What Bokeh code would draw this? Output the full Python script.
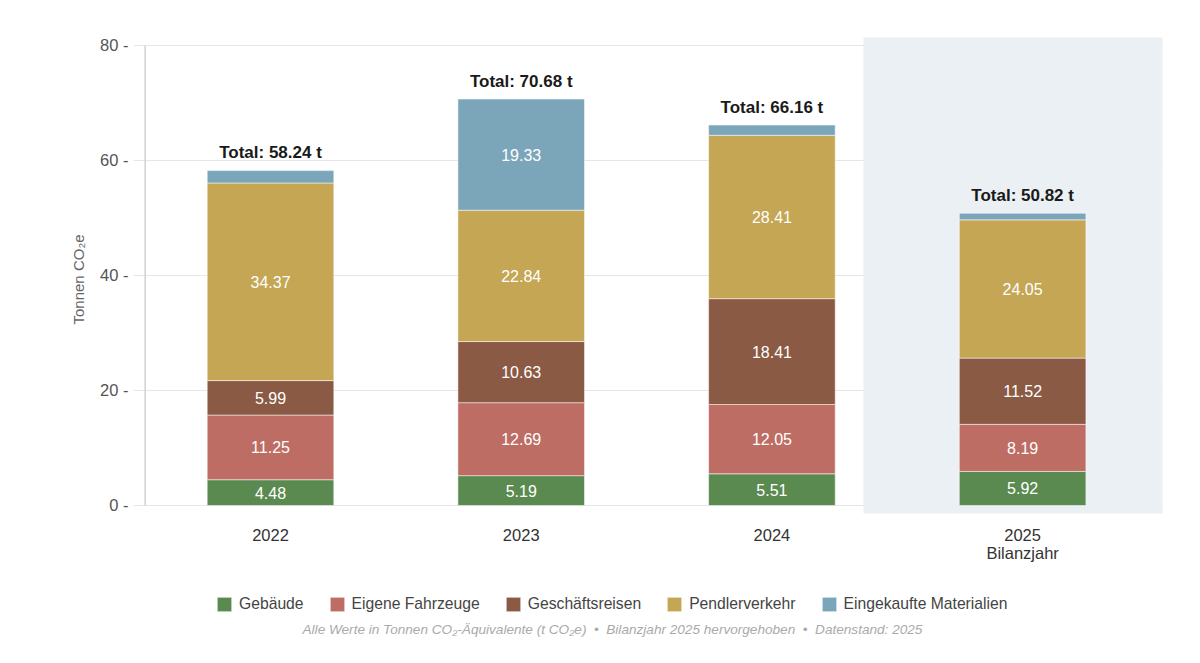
import numpy as np
from bokeh.plotting import figure
from bokeh.models import (ColumnDataSource, Range1d, FixedTicker, Legend, LegendItem,
                          Label, Title)
from bokeh.core.properties import value
from bokeh.embed import file_html
from bokeh.resources import INLINE

# --- data -------------------------------------------------------------------
years = ["2022", "2023", "2024", "2025"]
year_notes = ["", "", "", "Bilanzjahr"]
gebaeude = [4.48, 5.19, 5.51, 5.92]
eigene_fahrzeuge = [11.25, 12.69, 12.05, 8.19]
geschaeftsreisen = [5.99, 10.63, 18.41, 11.52]
pendlerverkehr = [34.37, 22.84, 28.41, 24.05]
materialien = [2.15, 19.33, 1.78, 1.14]

series_names = ["Gebäude", "Eigene Fahrzeuge", "Geschäftsreisen",
                "Pendlerverkehr", "Eingekaufte Materialien"]
series_values = [gebaeude, eigene_fahrzeuge, geschaeftsreisen,
                 pendlerverkehr, materialien]
colors = ["#5B8A50", "#BE6D64", "#8B5A44", "#C4A654", "#7BA6BA"]

y_ticks = [0, 20, 40, 60, 80]
highlight_year = "2025"

FONT = "Liberation Sans"
SEP = "\u00a0\u00a0•\u00a0\u00a0"

# --- figure -----------------------------------------------------------------
# The frame reaches down to the bottom of the canvas so that the category
# labels, the legend and the footnote can live inside it.
xs = np.arange(len(years), dtype=float)
keys = [f"s{i}" for i in range(len(series_names))]
src = ColumnDataSource(dict(x=xs, **{k: v for k, v in zip(keys, series_values)}))

p = figure(width=1200, height=663, output_backend="svg", toolbar_location=None,
           x_range=Range1d(-0.5465, 3.558), y_range=Range1d(-27.48, 81.39),
           min_border_left=133, min_border_right=38, min_border_top=37,
           min_border_bottom=0)
p.outline_line_color = None
p.background_fill_color = "white"
p.border_fill_color = "white"
p.xaxis.visible = False

# grid
p.xgrid.visible = False
p.ygrid.ticker = FixedTicker(ticks=y_ticks)
p.ygrid.grid_line_color = "#E6E6E6"
p.ygrid.grid_line_width = 1

# highlighted reporting year
hi = years.index(highlight_year)
p.quad(left=[xs[hi] - 0.635], right=[xs[hi] + 0.635], bottom=[-1.39], top=[90],
       fill_color="#EBF0F5", line_color=None)

# left axis line from 0 to 80
p.segment(x0=[-0.5], x1=[-0.5], y0=[y_ticks[0]], y1=[y_ticks[-1]],
          line_color="#D2D2D2", line_width=1.5)

# stacked bars
renderers = p.vbar_stack(keys, x="x", width=0.505, source=src, color=colors,
                         line_color="white", line_alpha=0.5, line_width=1)

# value labels inside segments
vals = np.array(series_values)
cum = np.cumsum(vals, axis=0)
lx, ly, lt = [], [], []
for i in range(vals.shape[0]):
    for j in range(vals.shape[1]):
        v = vals[i, j]
        if v >= 3:
            lx.append(xs[j])
            ly.append(cum[i, j] - v / 2)
            lt.append(f"{v:.2f}")
p.text(x=lx, y=ly, text=lt, text_color="white", text_font=value(FONT),
       text_font_size="16px", text_align="center", text_baseline="middle")

# totals above bars
totals = cum[-1]
p.text(x=xs, y=totals, text=[f"Total: {t:.2f} t" for t in totals],
       text_color="#1A1A1A", text_font=value(FONT), text_font_style="bold",
       text_font_size="17px", text_align="center", text_baseline="alphabetic",
       y_offset=-18)

# category labels under the bars (year, plus a note line for the reporting year)
zeros = [0] * len(xs)
p.text(x=xs, y=zeros, text=years, text_color="#333333",
       text_font=value(FONT), text_font_size="16.5px", text_align="center",
       text_baseline="middle", y_offset=30)
p.text(x=xs, y=zeros, text=year_notes, text_color="#333333",
       text_font=value(FONT), text_font_size="16.5px", text_align="center",
       text_baseline="middle", y_offset=48)

# y axis
ya = p.yaxis[0]
ya.ticker = FixedTicker(ticks=y_ticks)
ya.major_label_overrides = {t: f"{t} -" for t in y_ticks}
ya.axis_line_color = None
ya.major_tick_line_color = None
ya.minor_tick_line_color = None
ya.major_tick_out = 0
ya.major_tick_in = 0
ya.major_label_standoff = 5
ya.major_label_text_font = FONT
ya.major_label_text_font_size = "16.5px"
ya.major_label_text_color = "#555555"

p.add_layout(Title(text="Tonnen CO₂e", align="left", offset=339,
                   text_font=FONT, text_font_style="normal",
                   text_font_size="15px", text_color="#666666", standoff=22),
             "left")

# legend
items = [LegendItem(label=n, renderers=[r]) for n, r in zip(series_names, renderers)]
legend = Legend(items=items, orientation="horizontal", location=(82, 50),
                glyph_width=18, glyph_height=18, label_standoff=6, spacing=24,
                padding=0, margin=0, border_line_color=None,
                background_fill_alpha=0, label_text_font=FONT,
                label_text_font_size="15.7px", label_text_color="#444444")
p.add_layout(legend)

# footnote
note = SEP.join(["Alle Werte in Tonnen CO₂-Äquivalente (t CO₂e)",
                 "Bilanzjahr 2025 hervorgehoben",
                 "Datenstand: 2025"])
p.add_layout(Label(x=1.364, y=-21.57, text=note, text_align="center",
                   text_baseline="middle", text_font=FONT,
                   text_font_style="italic", text_font_size="13.6px",
                   text_color="#AAAAAA"))

open("out.html", "w").write(file_html(p, INLINE))
